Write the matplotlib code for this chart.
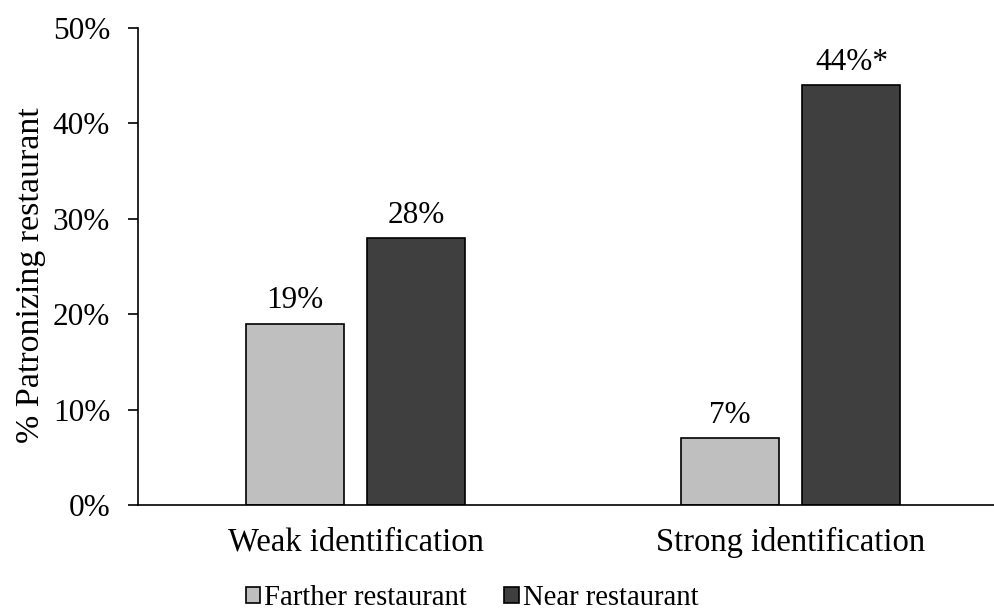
import matplotlib.pyplot as plt
import numpy as np

plt.rcParams['font.family'] = ['Liberation Serif', 'DejaVu Serif']

groups = ['Weak identification', 'Strong identification']
farther = [19, 7]
near = [28, 44]
labels_farther = ['19%', '7%']
labels_near = ['28%', '44%*']

fig = plt.figure(figsize=(9.94, 6.15), dpi=100)
ax = fig.add_axes([138 / 994, 110 / 615, 870 / 994, 477 / 615])

x = np.arange(len(groups))
w = 0.225
b1 = ax.bar(x - 0.14, farther, w, color='#bfbfbf', edgecolor='black', linewidth=1.2,
            label='Farther restaurant')
b2 = ax.bar(x + 0.14, near, w, color='#3f3f3f', edgecolor='black', linewidth=1.2,
            label='Near restaurant')

# value labels over each bar
for bars, labs in [(b1, labels_farther), (b2, labels_near)]:
    for rect, lab in zip(bars, labs):
        ax.annotate(lab, (rect.get_x() + rect.get_width() / 2, rect.get_height()),
                    xytext=(0, 6), textcoords='offset points',
                    ha='center', va='bottom', fontsize=22.5)

ax.set_xlim(-0.5, 1.5)
ax.set_ylim(0, 50)
ax.set_yticks(range(0, 51, 10))
ax.set_yticklabels([f'{v}%' for v in range(0, 51, 10)])
ax.set_xticks(x)
ax.set_xticklabels(groups)
ax.tick_params(axis='y', length=7, width=1.2, labelsize=22.5, pad=13)
ax.tick_params(axis='x', length=0, labelsize=23.5, pad=16)
ax.spines['top'].set_visible(False)
ax.spines['right'].set_visible(False)
ax.spines['left'].set_linewidth(1.2)
ax.spines['bottom'].set_linewidth(1.2)
ax.set_ylabel('% Patronizing restaurant', fontsize=24.5)
ax.yaxis.set_label_coords(-92 / 870, 0.482)

fig.legend(loc='center', bbox_to_anchor=(0.475, 17 / 615), ncol=2, frameon=False,
           fontsize=20.6, handlelength=0.5, handleheight=0.5, handletextpad=0.15,
           columnspacing=1.3, borderpad=0.1)

fig.savefig('out.png', dpi=100)
